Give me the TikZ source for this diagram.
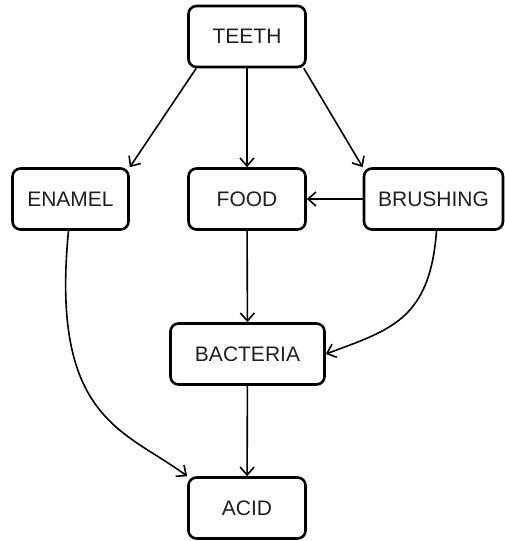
\documentclass[tikz,border=0pt]{standalone}
\usepackage{fontspec}
\setmainfont{Liberation Sans}
\usetikzlibrary{arrows.meta}
\begin{document}
\begin{tikzpicture}[x=1pt,y=-1pt,
  box/.style={draw=black, line width=2.6pt, rounded corners=8pt, minimum height=61pt, inner sep=0pt, font=\fontsize{21}{25}\selectfont, text=black!88},
  conn/.style={line width=1.6pt, -{Straight Barb[length=8pt,width=14pt]}}]
\useasboundingbox (0,0) rectangle (505,541);
\node[box, minimum width=117pt] (teeth) at (247,36.5) {TEETH};
\node[box, minimum width=116pt] (enamel) at (70.5,199) {ENAMEL};
\node[box, minimum width=117pt] (food) at (247,199) {FOOD};
\node[box, minimum width=139pt] (brushing) at (433.5,199) {BRUSHING};
\node[box, minimum width=154pt] (bacteria) at (247.5,354) {BACTERIA};
\node[box, minimum width=117pt] (acid) at (247,508) {ACID};
\draw[conn] ([xshift=9pt]teeth.south west) -- (enamel.north east);
\draw[conn] (teeth) -- (food);
\draw[conn] ([xshift=-3pt]teeth.south east) -- (brushing.north west);
\draw[conn] (brushing) -- (food);
\draw[conn] (food) -- (bacteria);
\draw[conn] (bacteria) -- (acid);
\draw[conn] ([xshift=-2pt]enamel.south) .. controls (50,420) and (125,430) .. (acid.north west);
\draw[conn] ([xshift=3pt]brushing.south) .. controls (430,320) and (390,330) .. (bacteria.east);
\end{tikzpicture}
\end{document}
